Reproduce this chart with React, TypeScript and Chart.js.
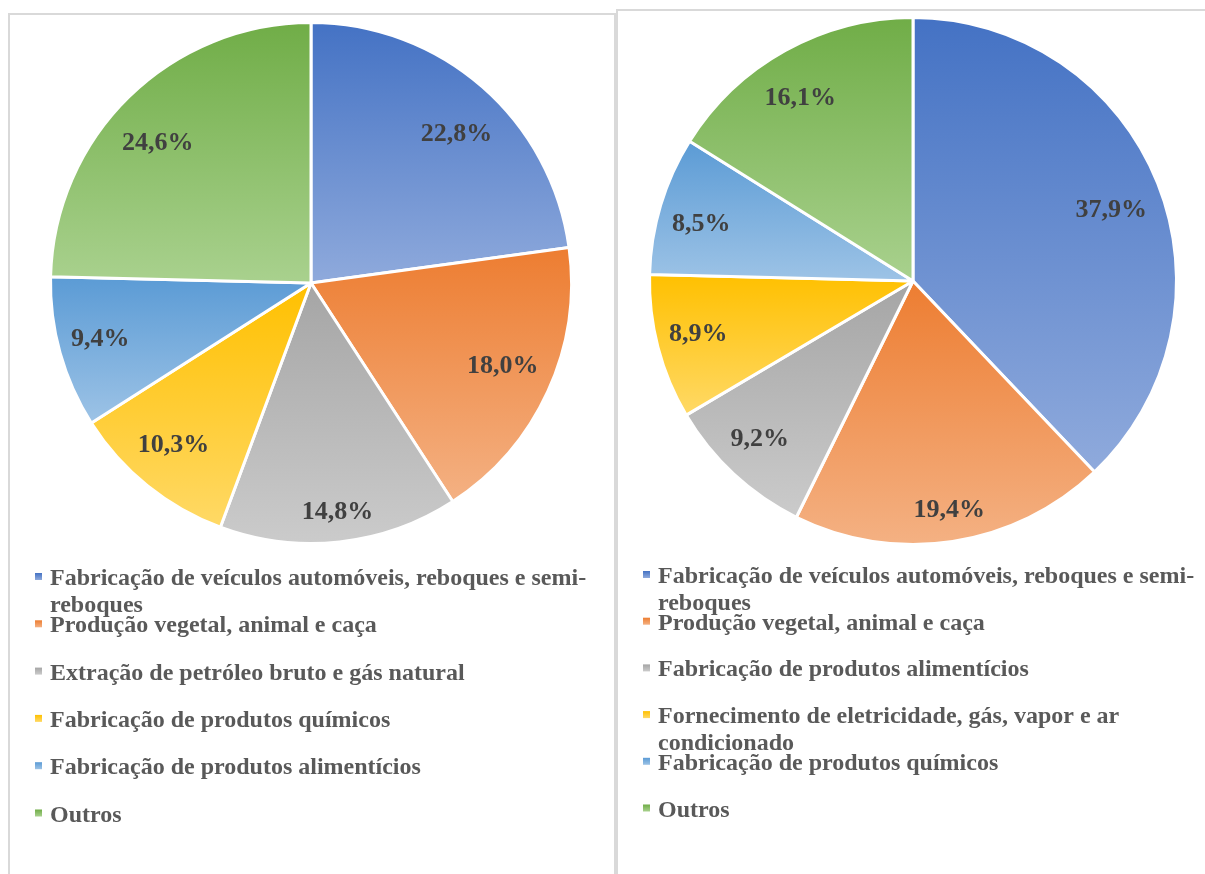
import React, { useEffect, useRef } from "react";
import { Chart, registerables } from "chart.js";

Chart.register(...registerables);

// ---------- data ----------
const leftCategories = [
  "Fabricação de veículos automóveis, reboques e semi-reboques",
  "Produção vegetal, animal e caça",
  "Extração de petróleo bruto e gás natural",
  "Fabricação de produtos químicos",
  "Fabricação de produtos alimentícios",
  "Outros",
];
const leftShares = [22.8, 18.0, 14.8, 10.3, 9.4, 24.6];

const rightCategories = [
  "Fabricação de veículos automóveis, reboques e semi-reboques",
  "Produção vegetal, animal e caça",
  "Fabricação de produtos alimentícios",
  "Fornecimento de eletricidade, gás, vapor e ar condicionado",
  "Fabricação de produtos químicos",
  "Outros",
];
const rightShares = [37.9, 19.4, 9.2, 8.9, 8.5, 16.1];

const sliceDark = ["#4472C4", "#ED7D31", "#A5A5A5", "#FFC000", "#5B9BD5", "#70AD47"];
const sliceLight = ["#8FAADC", "#F4B183", "#CBCBCB", "#FFD966", "#9DC3E6", "#A9D18E"];

// ---------- helpers ----------
const LABEL_FONT = 'bold 26px "Liberation Serif", "Times New Roman", serif';
const LEGEND_FONT = 'bold 24px "Liberation Serif", "Times New Roman", serif';

function fmtPct(v: number) {
  return v.toFixed(1).replace(".", ",") + "%";
}

function wrapText(ctx: CanvasRenderingContext2D, text: string, maxW: number) {
  const tokens: { t: string; sp: boolean }[] = [];
  text.split(" ").forEach((w, wi) => {
    const parts = w.split(/(?<=-)/);
    parts.forEach((p, pi) => tokens.push({ t: p, sp: wi > 0 && pi === 0 }));
  });
  const lines: string[] = [];
  let cur = "";
  for (const tok of tokens) {
    const cand = cur === "" ? tok.t : cur + (tok.sp ? " " : "") + tok.t;
    if (cur !== "" && ctx.measureText(cand).width > maxW) {
      lines.push(cur);
      cur = tok.t;
    } else {
      cur = cand;
    }
  }
  if (cur) lines.push(cur);
  return lines;
}

function sliceGradient(c: any, radius: number) {
  const i = c.dataIndex;
  if (i === undefined) return sliceDark[0];
  const chart = c.chart;
  const area = chart.chartArea;
  if (!area) return sliceDark[i];
  const data: number[] = c.dataset.data;
  const total = data.reduce((a, b) => a + b, 0);
  let before = 0;
  for (let k = 0; k < i; k++) before += data[k];
  const a0 = -Math.PI / 2 + (2 * Math.PI * before) / total;
  const a1 = a0 + (2 * Math.PI * data[i]) / total;
  const cy = (area.top + area.bottom) / 2;
  const ys = [cy, cy + radius * Math.sin(a0), cy + radius * Math.sin(a1)];
  for (const a of [-Math.PI / 2, Math.PI / 2, (3 * Math.PI) / 2]) {
    if (a >= a0 && a <= a1) ys.push(cy + radius * Math.sin(a));
  }
  const yMin = Math.min(...ys);
  const yMax = Math.max(...ys);
  const g = chart.ctx.createLinearGradient(0, yMin, 0, yMax);
  g.addColorStop(0, sliceDark[i]);
  g.addColorStop(1, sliceLight[i]);
  return g;
}

function makeOverlay(
  categories: string[],
  shares: number[],
  radius: number,
  legendBaseline: number,
  legendStep: number
) {
  return {
    id: "excelOverlay",
    afterDatasetsDraw(chart: any) {
      const ctx: CanvasRenderingContext2D = chart.ctx;
      const meta = chart.getDatasetMeta(0);
      ctx.save();
      ctx.font = LABEL_FONT;
      ctx.fillStyle = "#404040";
      ctx.textAlign = "center";
      ctx.textBaseline = "middle";
      meta.data.forEach((arc: any, i: number) => {
        const p = arc.getProps(["x", "y", "startAngle", "endAngle"], true);
        const mid = (p.startAngle + p.endAngle) / 2;
        const txt = fmtPct(shares[i]);
        const hw = ctx.measureText(txt).width / 2;
        const dx = Math.cos(mid);
        const dy = Math.sin(mid);
        // "inside end" placement, label kept inside the rim
        const gap = 1.225 * hw * Math.abs(dx) + (dy < 0 ? 30 : 24) * Math.abs(dy);
        const d = radius - gap;
        let px = dx * d;
        let py = dy * d;
        // slight pull toward the horizontal
        const lat = (dy < 0 ? 12 : 5) * Math.abs(2 * dx * dy);
        const s = -Math.sign(dx * dy);
        px += s * -dy * lat;
        py += s * dx * lat;
        ctx.fillText(txt, p.x + px, p.y + py);
      });
      ctx.restore();
    },
    afterDraw(chart: any) {
      const ctx: CanvasRenderingContext2D = chart.ctx;
      ctx.save();
      ctx.font = LEGEND_FONT;
      ctx.textAlign = "left";
      ctx.textBaseline = "alphabetic";
      categories.forEach((cat, i) => {
        const base = legendBaseline + i * legendStep;
        const g = ctx.createLinearGradient(0, base - 12, 0, base - 5);
        g.addColorStop(0, sliceDark[i]);
        g.addColorStop(1, sliceLight[i]);
        ctx.fillStyle = g;
        ctx.fillRect(25, base - 12, 7, 7);
        ctx.fillStyle = "#595959";
        const lines = wrapText(ctx, cat, 550);
        lines.forEach((ln, j) => ctx.fillText(ln, 40, base + j * 27));
      });
      ctx.restore();
    },
  };
}

type PanelProps = {
  categories: string[];
  shares: number[];
  width: number;
  height: number;
  padLeft: number;
  padRight: number;
  padBottom: number;
  radius: number;
  legendBaseline: number;
  legendStep: number;
};

function PiePanel(props: PanelProps) {
  const ref = useRef<HTMLCanvasElement>(null);
  useEffect(() => {
    const canvas = ref.current;
    if (!canvas) return;
    const { categories, shares, radius } = props;
    const chart = new Chart(canvas, {
      type: "pie",
      data: {
        labels: categories,
        datasets: [
          {
            data: shares,
            backgroundColor: (c: any) => sliceGradient(c, radius + 1.5),
            borderColor: "#FFFFFF",
            borderWidth: 3,
            radius: radius + 1.5,
          } as any,
        ],
      },
      options: {
        responsive: false,
        animation: false,
        events: [],
        layout: {
          padding: { left: props.padLeft, right: props.padRight, top: 0, bottom: props.padBottom },
        },
        plugins: {
          legend: { display: false },
          tooltip: { enabled: false },
        },
      },
      plugins: [makeOverlay(categories, shares, radius, props.legendBaseline, props.legendStep)],
    });
    return () => chart.destroy();
  }, []);
  return <canvas ref={ref} width={props.width} height={props.height} style={{ display: "block" }} />;
}

export default function App() {
  return (
    <div
      style={{
        position: "absolute",
        left: 0,
        top: 0,
        width: 1205,
        height: 874,
        overflow: "hidden",
        background: "#FFFFFF",
      }}
    >
      <div
        style={{
          position: "absolute",
          left: 8,
          top: 13,
          width: 604,
          height: 900,
          border: "2px solid #D9D9D9",
        }}
      >
        <PiePanel
          categories={leftCategories}
          shares={leftShares}
          width={604}
          height={859}
          padLeft={0}
          padRight={2}
          padBottom={323}
          radius={259}
          legendBaseline={570}
          legendStep={47.3}
        />
      </div>
      <div
        style={{
          position: "absolute",
          left: 616,
          top: 9,
          width: 600,
          height: 900,
          border: "2px solid #D9D9D9",
        }}
      >
        <PiePanel
          categories={rightCategories}
          shares={rightShares}
          width={587}
          height={863}
          padLeft={3}
          padRight={0}
          padBottom={323}
          radius={262}
          legendBaseline={572}
          legendStep={46.7}
        />
      </div>
    </div>
  );
}
